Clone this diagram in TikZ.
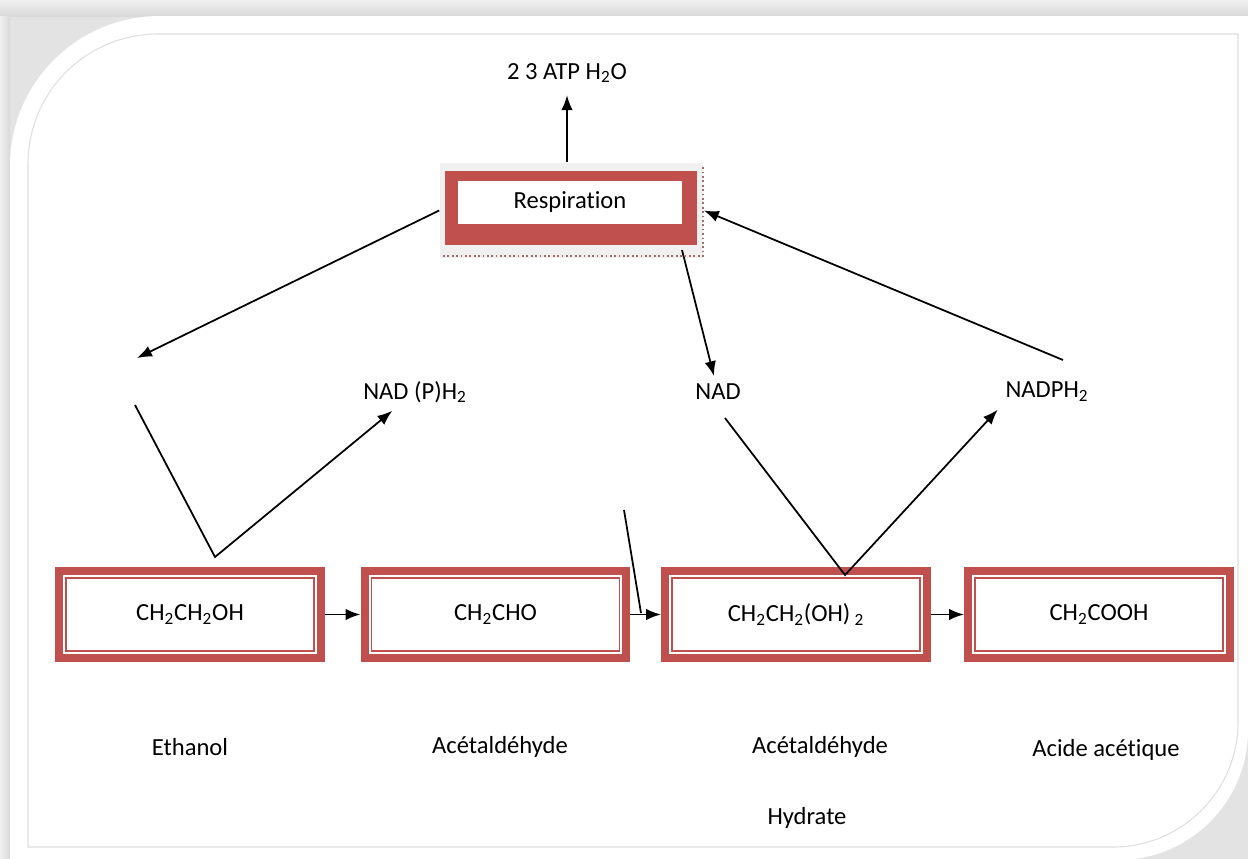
\documentclass[tikz,border=0pt]{standalone}
\usepackage{fontspec}
\setmainfont{Carlito}[Ligatures=NoCommon]
\usetikzlibrary{arrows.meta}
\definecolor{accred}{RGB}{192,80,77}
\tikzset{
    	every node/.append style={font=\fontsize{14}{16}\selectfont}}

\begin{document}
\begin{tikzpicture}
  [x=0.02cm,y=-0.02cm,line width=1pt,>={Latex[length=8.5pt,width=6.5pt]},
   every node/.append style={inner sep=1pt},
   lbl/.style={outer sep=3.5pt},
   chem/.style={draw=accred,line width=0.9pt,fill=white,
     minimum width=4.96cm,minimum height=1.46cm,outer sep=0.22cm,
     preaction={draw=accred,line width=12.5pt},
     preaction={draw=white,line width=3.4pt}}]
  \useasboundingbox (0,0) rectangle (1248,859);
  % card and its shadow
  \fill[gray!22] (0,0) rectangle (1248,859);
  \shade[top color=gray!12,bottom color=gray!30] (0,0) rectangle (1248,16);
  \shade[left color=gray!12,right color=gray!30] (0,16) rectangle (10,859);
  \fill[white] (10,859) -- (10,166) arc[start angle=180,end angle=270,radius=150]
    -- (1248,16) -- (1248,730) arc[start angle=0,end angle=90,radius=130] -- cycle;
  \draw[gray!25,line width=0.6pt] (28,847) -- (28,164) arc[start angle=180,end angle=270,radius=130]
    -- (1238,34) -- (1238,722) arc[start angle=0,end angle=90,radius=125] -- cycle;

  \node [fill=gray!12,minimum width=5.26cm,minimum height=1.9cm] (respbg) at (571.5,210.5) {};
  \draw [accred!60!black!70,line width=0.6pt,dash pattern=on 1pt off 1.5pt] (443,256) -- (703,256) -- (703,167);
  \fill [accred] (445,171) rectangle (697,245);
  \node [fill=white,minimum width=4.48cm,minimum height=0.86cm] (resp) at (570,202.5) {Respiration};

  \node [lbl,outer sep=6pt] (atp) at (567,73) {2 3 ATP H\textsubscript{2}O};
  \node [lbl] (nadph) at (415,392) {NAD (P)H\textsubscript{2}};
  \node [lbl] (nad) at (718,392) {NAD};
  \node [lbl] (nadpp) at (1047,392) {NADPH\textsubscript{2}};

  \node [chem] (eth) at (190,614.5) {CH\textsubscript{2}CH\textsubscript{2}OH};
  \node [chem] (ald) at (495.5,614.5) {CH\textsubscript{2}CHO};
  \node [chem] (hyd) at (796,614.5) {CH\textsubscript{2}CH\textsubscript{2}(OH)\,\textsubscript{2}};
  \node [chem] (acid) at (1099,614.5) {CH\textsubscript{2}COOH};

  \node (ethname) at (190,747) {Ethanol};
  \node (aldname) at (500,747) {Acétaldéhyde};
  \node (hydname) at (820,747) {Acétaldéhyde};
  \node (hydname2) at (807,818) {Hydrate};
  \node (acidname) at (1106,750) {Acide acétique};

  \coordinate (lefttip) at (137,358);
  \coordinate (leftfoot) at (135,405);
  \coordinate (ethtop) at (215,557);
  \coordinate (respfoot) at (682,250);
  \coordinate (nadfoot) at (725,418);
  \coordinate (hydtop) at (845,575);
  \coordinate (nadptop) at (1063,360);
  \coordinate (crossin) at (624,510);
  \coordinate (crossend) at (641,613);

  \draw[->] (respbg.north -| atp) -- (atp);
  \draw[->] (respbg.west) -- (lefttip);
  \draw[->] (respfoot) -- (nad);
  \draw[->] (nadptop) -- (respbg.east);
  \draw[->] (leftfoot) -- (ethtop) -- (nadph);
  \draw[->] (nadfoot) -- (hydtop) -- (nadpp.south west);
  \draw (crossin) -- (crossend);

  \foreach \from/\to in {eth/ald,ald/hyd,hyd/acid}
    \draw[->] (\from) -- (\to);
\end{tikzpicture}
\end{document}
